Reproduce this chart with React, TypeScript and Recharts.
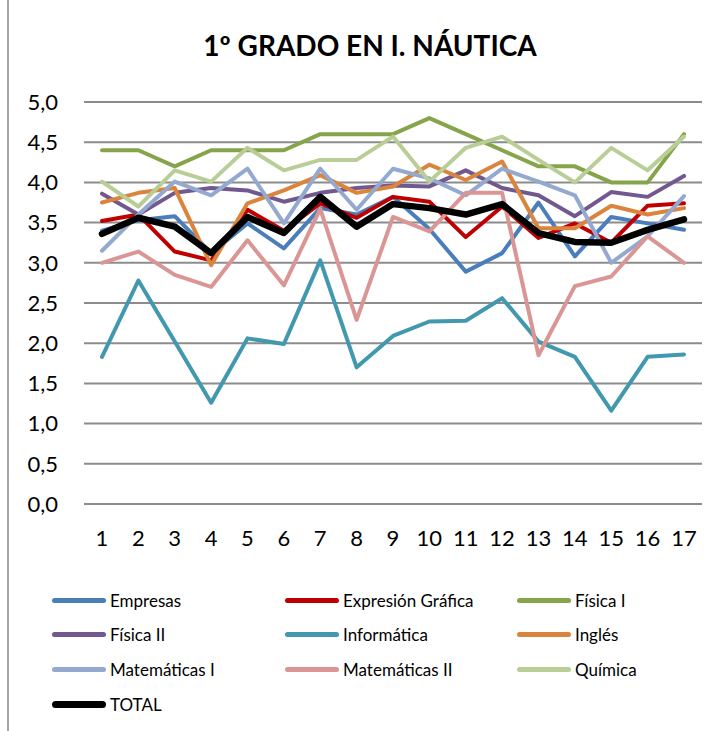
import { LineChart, Line, XAxis, YAxis, CartesianGrid } from "recharts";

// Exam rounds 1..17
const rounds = ["1", "2", "3", "4", "5", "6", "7", "8", "9", "10", "11", "12", "13", "14", "15", "16", "17"];
const yTicks = [0, 0.5, 1, 1.5, 2, 2.5, 3, 3.5, 4, 4.5, 5];

const empresas = [3.4, 3.53, 3.58, 3.12, 3.49, 3.18, 3.68, 3.6, 3.82, 3.42, 2.89, 3.12, 3.75, 3.08, 3.57, 3.49, 3.41];
const expresion = [3.52, 3.6, 3.14, 3.03, 3.66, 3.4, 3.74, 3.56, 3.82, 3.76, 3.32, 3.7, 3.31, 3.49, 3.25, 3.71, 3.74];
const fisica1 = [4.4, 4.4, 4.2, 4.4, 4.4, 4.4, 4.6, 4.6, 4.6, 4.8, 4.6, 4.4, 4.2, 4.2, 4.0, 4.0, 4.6];
const fisica2 = [3.86, 3.6, 3.87, 3.93, 3.9, 3.76, 3.87, 3.93, 3.96, 3.95, 4.15, 3.93, 3.84, 3.58, 3.88, 3.82, 4.08];
const informatica = [1.83, 2.78, 2.02, 1.26, 2.06, 1.99, 3.03, 1.7, 2.09, 2.27, 2.28, 2.56, 2.02, 1.83, 1.16, 1.83, 1.86];
const ingles = [3.75, 3.87, 3.93, 2.97, 3.74, 3.9, 4.09, 3.87, 3.95, 4.22, 4.03, 4.26, 3.43, 3.43, 3.71, 3.6, 3.68];
const mate1 = [3.15, 3.6, 4.01, 3.84, 4.17, 3.49, 4.17, 3.66, 4.17, 4.05, 3.84, 4.17, 4.01, 3.84, 3.0, 3.33, 3.83];
const mate2 = [3.0, 3.14, 2.85, 2.7, 3.28, 2.72, 3.67, 2.29, 3.57, 3.39, 3.87, 3.87, 1.85, 2.71, 2.83, 3.33, 3.0];
const quimica = [4.01, 3.7, 4.15, 4.01, 4.43, 4.15, 4.28, 4.28, 4.57, 4.01, 4.43, 4.57, 4.28, 4.0, 4.43, 4.15, 4.57];
const total = [3.36, 3.56, 3.45, 3.12, 3.57, 3.37, 3.82, 3.45, 3.73, 3.68, 3.6, 3.73, 3.37, 3.26, 3.25, 3.41, 3.54];

const series = [
  { key: "empresas", name: "Empresas", values: empresas, color: "#4A7EBB" },
  { key: "expresion", name: "Expresión Gráfica", values: expresion, color: "#C00000" },
  { key: "fisica1", name: "Física I", values: fisica1, color: "#86A44A" },
  { key: "fisica2", name: "Física II", values: fisica2, color: "#71588F" },
  { key: "informatica", name: "Informática", values: informatica, color: "#4198AF" },
  { key: "ingles", name: "Inglés", values: ingles, color: "#DB843D" },
  { key: "mate1", name: "Matemáticas I", values: mate1, color: "#93A9CF" },
  { key: "mate2", name: "Matemáticas II", values: mate2, color: "#D99694" },
  { key: "quimica", name: "Química", values: quimica, color: "#B9CD96" },
  { key: "total", name: "TOTAL", values: total, color: "#000000" },
];

const data = rounds.map((r, i) => {
  const row: Record<string, string | number> = { round: r };
  series.forEach((s) => (row[s.key] = s.values[i]));
  return row;
});

const FONT = "Lato, 'Open Sans', sans-serif";
const comma = (v: number) => v.toFixed(1).replace(".", ",");

export default function App() {
  return (
    <div style={{ position: "absolute", left: 0, top: 0, width: 720, height: 731, background: "#fff", fontFamily: FONT }}>
      <div style={{ position: "absolute", left: 7, top: 0, width: 2, height: 731, background: "#a6a6a6" }} />
      <div
        style={{
          position: "absolute",
          left: 0,
          width: 740,
          top: 28,
          textAlign: "center",
          fontSize: 28,
          fontWeight: 700,
          color: "#000",
        }}
      >
        1º GRADO EN I. NÁUTICA
      </div>
      <div style={{ position: "absolute", left: 0, top: 0 }}>
        <LineChart width={720} height={560} data={data} margin={{ top: 102, right: 18, bottom: 16, left: 0 }}>
          <CartesianGrid vertical={false} stroke="#8c8c8c" strokeWidth={2} />
          <XAxis
            dataKey="round"
            axisLine={false}
            tickLine={false}
            tickSize={0}
            tickMargin={26}
            height={40}
            interval={0}
            padding={{ left: 18, right: 18 }}
            tick={{ fontSize: 22, fill: "#000", fontFamily: FONT }}
          />
          <YAxis
            domain={[0, 5]}
            ticks={yTicks}
            tickFormatter={comma}
            axisLine={false}
            tickLine={false}
            tickSize={0}
            tickMargin={26}
            width={84}
            tick={{ fontSize: 22, fill: "#000", fontFamily: FONT }}
          />
          {series.map((s) => (
            <Line
              key={s.key}
              dataKey={s.key}
              name={s.name}
              stroke={s.color}
              strokeWidth={s.key === "total" ? 6.5 : 4}
              strokeLinejoin="round"
              strokeLinecap="round"
              dot={false}
              activeDot={false}
              isAnimationActive={false}
            />
          ))}
        </LineChart>
      </div>
      {series.map((s, i) => {
        const col = i % 3;
        const row = Math.floor(i / 3);
        const x = [52, 285, 517][col];
        const y = [600, 634, 669, 704][row];
        return (
          <div key={s.key} style={{ position: "absolute", left: x, top: y - 11, height: 22, display: "flex", alignItems: "center" }}>
            <span
              style={{
                width: 54,
                height: s.key === "total" ? 7 : 5,
                borderRadius: 4,
                background: s.color,
                display: "inline-block",
              }}
            />
            <span style={{ marginLeft: 4, fontSize: 17, color: "#000" }}>{s.name}</span>
          </div>
        );
      })}
    </div>
  );
}
